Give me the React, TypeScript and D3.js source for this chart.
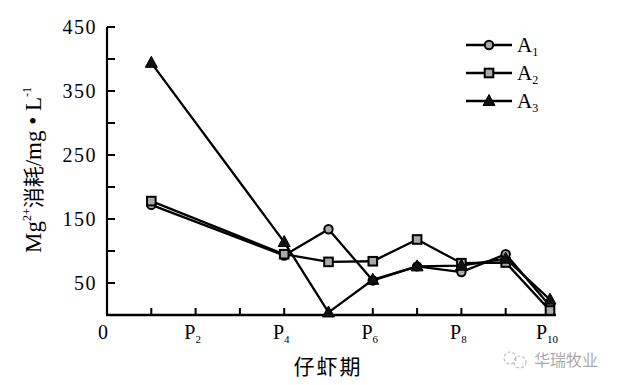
import React from "react";
import * as d3 from "d3";

const stages = [1, 4, 5, 6, 7, 8, 9, 10];
const seriesA1 = [172, 93, 134, 54, 76, 67, 95, 14];
const seriesA2 = [178, 95, 83, 84, 118, 81, 82, 7];
const seriesA3 = [394, 114, 4, 55, 76, 77, 88, 24];
const seriesNames = ["1", "2", "3"];
const yTickValues = [50, 100, 150, 200, 250, 300, 350, 400, 450];
const yLabelValues = [50, 150, 250, 350, 450];
const xTickValues = [1, 2, 3, 4, 5, 6, 7, 8, 9, 10];
const xLabelValues = [2, 4, 6, 8, 10];

const W = 640;
const H = 385;
const serif = "'Liberation Serif', 'DejaVu Serif', serif";
const cjk = "'Noto Sans CJK SC', sans-serif";

export default function App() {
  const x = d3.scaleLinear().domain([0, 10]).range([107, 550]);
  const y = d3.scaleLinear().domain([0, 450]).range([315, 27]);
  const line = d3
    .line<[number, number]>()
    .x((d) => x(d[0]))
    .y((d) => y(d[1]));
  const all = [seriesA1, seriesA2, seriesA3];
  const marker = (k: number, cx: number, cy: number, key: string) => {
    if (k === 0)
      return <circle key={key} cx={cx} cy={cy} r={4.2} fill="#aaa" stroke="#000" strokeWidth={2} />;
    if (k === 1)
      return <rect key={key} x={cx - 4.3} y={cy - 4.3} width={8.6} height={8.6} fill="#aaa" stroke="#000" strokeWidth={2} />;
    return (
      <path
        key={key}
        d={`M${cx},${cy - 6.5}L${cx + 6},${cy + 4.5}L${cx - 6},${cy + 4.5}Z`}
        fill="#111"
        stroke="#000"
        strokeWidth={1}
      />
    );
  };
  return (
    <svg width={W} height={H} style={{ position: "absolute", left: 0, top: 0, background: "#fff" }}>
      <rect width={W} height={H} fill="#fff" />
      {/* axes */}
      <line x1={x(0)} x2={x(0)} y1={y(450)} y2={y(0)} stroke="#000" strokeWidth={2.2} />
      <line x1={x(0) - 1} x2={556} y1={y(0)} y2={y(0)} stroke="#000" strokeWidth={2.4} />
      {yTickValues.map((v) => (
        <line key={"yt" + v} x1={x(0)} x2={x(0) + 8} y1={y(v)} y2={y(v)} stroke="#000" strokeWidth={2} />
      ))}
      {yLabelValues.map((v) => (
        <text key={"yl" + v} x={x(0) - 10} y={y(v)} dy="0.35em" textAnchor="end" fontFamily={serif} fontSize={20} letterSpacing={1.5}>
          {v}
        </text>
      ))}
      {xTickValues.map((v) => (
        <line key={"xt" + v} x1={x(v)} x2={x(v)} y1={y(0)} y2={y(0) - 7} stroke="#000" strokeWidth={2} />
      ))}
      <text x={x(0) - 4} y={339} textAnchor="middle" fontFamily={serif} fontSize={20}>0</text>
      {xLabelValues.map((v) => (
        <text key={"xl" + v} x={x(v) - 3} y={339} textAnchor="middle" fontFamily={serif} fontSize={20}>
          P<tspan fontSize={11} dy={4}>{v}</tspan>
        </text>
      ))}
      <text x={328} y={374} textAnchor="middle" fontFamily={cjk} fontSize={21} letterSpacing={2}>仔虾期</text>
      <text transform="translate(41,170) rotate(-90)" textAnchor="middle" fontFamily={serif} fontSize={23}>
        Mg<tspan fontSize={12} dy={-10}>2+</tspan>
        <tspan dy={10} fontFamily={cjk} fontSize={21}>消耗</tspan>
        /mg • L<tspan fontSize={12} dy={-10}>-1</tspan>
      </text>
      {/* series */}
      {all.map((s, k) => {
        const pts = stages.map((st, i) => [st, s[i]] as [number, number]);
        return (
          <g key={"s" + k}>
            <path d={line(pts) || ""} fill="none" stroke="#000" strokeWidth={2.3} />
            {pts.map((p, i) => marker(k, x(p[0]), y(p[1]), `m${k}-${i}`))}
          </g>
        );
      })}
      {/* legend */}
      {seriesNames.map((n, k) => {
        const ly = 45 + k * 28;
        return (
          <g key={"lg" + k}>
            <line x1={466} x2={512} y1={ly} y2={ly} stroke="#000" strokeWidth={2.3} />
            {marker(k, 489, ly, "lm" + k)}
            <text x={517} y={ly + 7} fontFamily={serif} fontSize={21}>
              A<tspan fontSize={12} dy={4}>{n}</tspan>
            </text>
          </g>
        );
      })}
      {/* watermark */}
      <g opacity={0.55}>
        <circle cx={510} cy={358} r={6} fill="none" stroke="#888" strokeWidth={1.2} strokeDasharray="3 2" />
        <circle cx={520} cy={362} r={6} fill="none" stroke="#888" strokeWidth={1.2} strokeDasharray="3 2" />
        <text x={534} y={366} fontFamily={cjk} fontSize={16} fill="#666">华瑞牧业</text>
      </g>
    </svg>
  );
}
